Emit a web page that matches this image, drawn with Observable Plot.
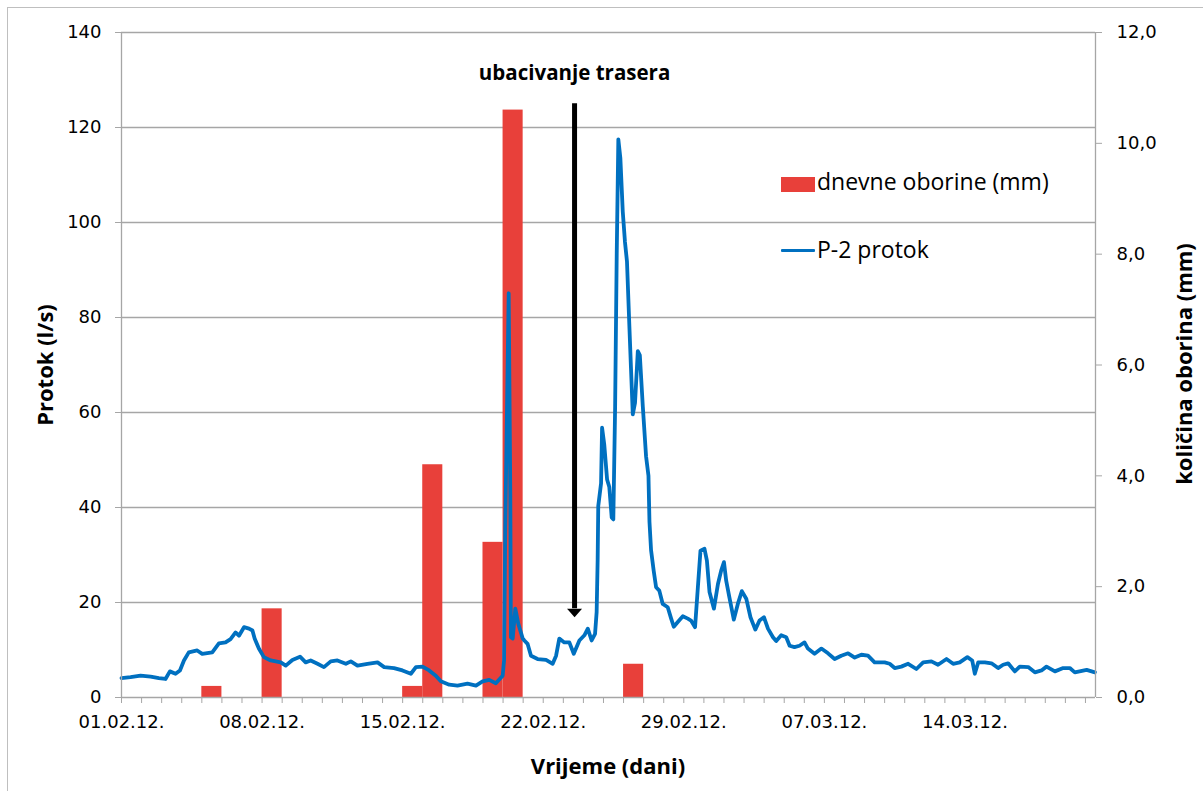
<!DOCTYPE html>
<html>
<head>
<meta charset="utf-8">
<script src="https://cdn.jsdelivr.net/npm/d3@7"></script>
<script src="https://cdn.jsdelivr.net/npm/@observablehq/plot@0.6"></script>
<style>
  html, body { margin: 0; padding: 0; background: #fff; overflow: hidden; }
  #wrap { position: relative; width: 1203px; height: 791px; }
  #chart svg { display: block; background: #fff; }
  .ov { position: absolute; white-space: nowrap; color: #000; }
  .title { font-family: "Open Sans", sans-serif; font-weight: bold; font-size: 22px; }
  .leg { font-family: "Open Sans", sans-serif; font-size: 23px; }
  #border { position: absolute; left: 7px; top: 7px; width: 1300px; height: 900px; border-left: 1px solid #BFBFBF; border-top: 1px solid #BFBFBF; pointer-events: none; }
</style>
</head>
<body>
<div id="wrap">
  <div id="chart"></div>
  <div id="border"></div>
  <div class="ov title" id="ytitle" style="left:44px; top:365px; transform: translate(-50%,-50%) rotate(-90deg);">Protok (l/s)</div>
  <div class="ov title" id="y2title" style="left:1183px; top:364px; transform: translate(-50%,-50%) rotate(-90deg);">količina oborina (mm)</div>
  <div class="ov title" id="xtitle" style="left:608px; top:765px; transform: translate(-50%,-50%);">Vrijeme (dani)</div>
  <div class="ov" style="left:781px; top:177px; width:34px; height:15px; background:#E8403A;"></div>
  <div class="ov leg" style="left:817px; top:165px;">dnevne oborine (mm)</div>
  <div class="ov" style="left:781px; top:249px; width:34px; height:3px; background:#0070C0; border-radius:1px;"></div>
  <div class="ov leg" style="left:817px; top:233px;">P-2 protok</div>
</div>
<script>
// ---- data ----
// daily precipitation (mm), right axis
const rainDate = ["2012-02-05", "2012-02-08", "2012-02-15", "2012-02-16", "2012-02-19", "2012-02-20", "2012-02-26"];
const rainMm   = [0.2, 1.6, 0.2, 4.2, 2.8, 10.6, 0.6];

// P-2 discharge (l/s); time as days after 01.02.2012 00:00
const flowDay = [0.00,0.45,0.95,1.45,1.86,2.19,2.41,2.69,2.91,3.11,3.35,3.77,4.02,4.52,4.85,5.18,5.43,5.68,5.85,6.10,
  6.35,6.52,6.63,6.84,7.09,7.43,7.93,8.18,8.51,8.89,9.17,9.42,9.76,10.08,10.42,10.75,11.17,11.42,11.75,12.25,
  12.75,13.08,13.57,13.99,14.41,14.66,14.99,15.32,15.65,15.90,16.32,16.73,17.23,17.65,17.98,18.31,18.64,18.98,19.05,19.11,
  19.28,19.36,19.39,19.48,19.61,19.76,19.98,20.06,20.22,20.39,20.72,21.14,21.47,21.64,21.80,22.05,22.30,22.52,22.80,23.05,
  23.22,23.41,23.58,23.66,23.71,23.74,23.88,23.93,24.04,24.18,24.29,24.41,24.49,24.58,24.66,24.74,24.84,24.96,25.07,25.17,
  25.29,25.37,25.46,25.57,25.71,25.81,25.96,26.12,26.24,26.29,26.37,26.50,26.62,26.78,26.95,27.20,27.37,27.50,27.70,27.95,
  28.20,28.36,28.56,28.70,28.83,29.03,29.15,29.28,29.50,29.70,29.86,30.00,30.11,30.27,30.49,30.69,30.89,31.11,31.32,31.56,
  31.77,31.99,32.19,32.44,32.60,32.85,33.10,33.27,33.51,33.76,34.01,34.18,34.51,34.85,35.18,35.51,35.84,36.18,36.51,36.84,
  37.17,37.50,38.00,38.25,38.50,38.83,39.17,39.58,39.92,40.33,40.66,41.08,41.41,41.74,42.12,42.36,42.49,42.66,42.99,43.32,
  43.65,43.90,44.15,44.48,44.73,45.15,45.48,45.81,46.06,46.48,46.89,47.22,47.47,48.06,48.47];
const flowQ = [4.1,4.3,4.6,4.4,4.1,3.9,5.5,5.0,5.7,7.8,9.5,9.9,9.2,9.5,11.4,11.6,12.3,13.7,13.0,14.8,
  14.5,14.1,12.4,10.3,8.5,7.8,7.4,6.7,7.9,8.6,7.4,7.8,7.1,6.4,7.6,7.8,7.1,7.6,6.7,7.1,
  7.4,6.4,6.2,5.7,5.0,6.4,6.5,5.7,4.6,3.4,2.7,2.5,2.9,2.5,3.4,3.7,3.0,4.6,7.8,35.8,
  85.1,43.0,12.7,12.4,18.7,15.5,12.4,12.0,11.3,8.8,8.1,7.9,7.1,8.8,12.4,11.6,11.6,9.2,12.0,13.1,
  14.5,12.0,13.4,18.0,29.0,40.3,45.1,56.8,53.2,45.9,44.3,37.9,37.5,61.2,93.5,117.5,113.6,102.3,95.9,91.8,
  78.1,69.3,59.6,62.0,72.9,72.1,61.2,50.8,46.7,37.0,31.0,26.7,23.2,22.5,19.7,19.0,16.6,14.9,15.9,17.1,
  16.6,16.2,14.8,23.2,30.9,31.3,28.8,22.2,18.7,23.9,26.7,28.5,24.6,21.1,16.4,19.7,22.4,20.8,16.9,14.3,
  16.2,16.9,14.5,12.7,11.9,13.1,12.7,10.9,10.6,10.9,11.6,10.3,9.2,10.3,9.3,8.1,8.8,9.3,8.4,9.0,
  8.8,7.4,7.4,7.1,6.2,6.5,7.1,6.0,7.4,7.6,6.9,8.1,7.1,7.4,8.5,7.8,5.0,7.4,7.4,7.2,
  6.2,6.9,7.2,5.5,6.5,6.4,5.3,5.7,6.5,5.5,6.2,6.2,5.3,5.8,5.3];

// tracer injection annotation
const injectionDay = 22.56;
const injectionLabel = "ubacivanje trasera";
const arrowTop = 125;       // l/s level of arrow start
const arrowHeadBase = 18.7; // l/s level where head begins
const labelLevel = 131.4;

// axis ticks
const leftTicks = [0, 20, 40, 60, 80, 100, 120, 140];
const rightTicks = [0, 2, 4, 6, 8, 10, 12];
const xLabelDates = ["2012-02-01", "2012-02-08", "2012-02-15", "2012-02-22", "2012-02-29", "2012-03-07", "2012-03-14"];
const xEndDay = 48.5;

// ---- build ----
const DAY = 864e5;
const t0 = Date.UTC(2012, 1, 1);
const toDate = d => new Date(t0 + d * DAY);
const k = 140 / 12; // mm -> l/s axis

const flow = flowDay.map((d, i) => ({t: toDate(d), q: flowQ[i]}));
const rain = rainDate.map((s, i) => ({t1: new Date(s), t2: new Date(+new Date(s) + DAY), v: rainMm[i] * k}));
const inj = [{t: toDate(injectionDay), top: arrowTop, base: arrowHeadBase, label: injectionLabel, ly: labelLevel}];
const dayTicks = d3.utcDay.range(toDate(0), toDate(xEndDay));
const labelTicks = xLabelDates.map(s => new Date(s));

const headSymbol = {
  draw(ctx, size) {
    const r = Math.sqrt(size / Math.PI);
    ctx.moveTo(-r, 0);
    ctx.lineTo(r, 0);
    ctx.lineTo(0, r * 1.15);
    ctx.closePath();
  }
};

const grid = "#A6A6A6";
const chart = Plot.plot({
  width: 1203,
  height: 791,
  marginLeft: 121,
  marginRight: 108,
  marginTop: 32,
  marginBottom: 94,
  x: {type: "utc", domain: [toDate(0), toDate(xEndDay)]},
  y: {domain: [0, 140]},
  style: {fontFamily: "'DejaVu Sans', sans-serif", fontSize: "18px", color: "#000", background: "#fff"},
  marks: [
    Plot.gridY(leftTicks.filter(v => v > 0), {stroke: grid, strokeOpacity: 1, strokeWidth: 1.3}),
    Plot.rectY(rain, {x1: "t1", x2: "t2", y: "v", fill: "#E8403A"}),
    Plot.line(flow, {x: "t", y: "q", stroke: "#0070C0", strokeWidth: 3.8, strokeLinejoin: "round", strokeLinecap: "round"}),
    Plot.ruleX(inj, {x: "t", y1: "base", y2: "top", stroke: "#000", strokeWidth: 5}),
    Plot.dot(inj, {x: "t", y: "base", symbol: headSymbol, r: 7.5, fill: "#000", stroke: "none"}),
    Plot.text(inj, {x: "t", y: "ly", text: "label", fontFamily: "'Open Sans', sans-serif", fontWeight: "bold", fontSize: 20.5, fill: "#000"}),
    Plot.ruleY([0], {stroke: grid, strokeWidth: 1.3}),
    Plot.ruleX([toDate(0), toDate(xEndDay)], {stroke: grid, strokeWidth: 1.3}),
    Plot.axisY({ticks: leftTicks, tickSize: 6, tickPadding: 14, stroke: grid, fill: "#000", label: null, tickFormat: d => String(d)}),
    Plot.axisY({anchor: "right", ticks: rightTicks.map(v => v * k), tickSize: 6, tickPadding: 15, stroke: grid, fill: "#000", label: null,
      tickFormat: d => (d / k).toFixed(1).replace(".", ",")}),
    Plot.axisX({ticks: dayTicks, tickSize: 6, tickFormat: () => "", stroke: grid, label: null}),
    Plot.axisX({ticks: labelTicks, tickSize: 0, tickPadding: 18, fill: "#000", label: null, tickFormat: d3.utcFormat("%d.%m.%y.")})
  ]
});
document.getElementById("chart").appendChild(chart);
</script>
</body>
</html>
